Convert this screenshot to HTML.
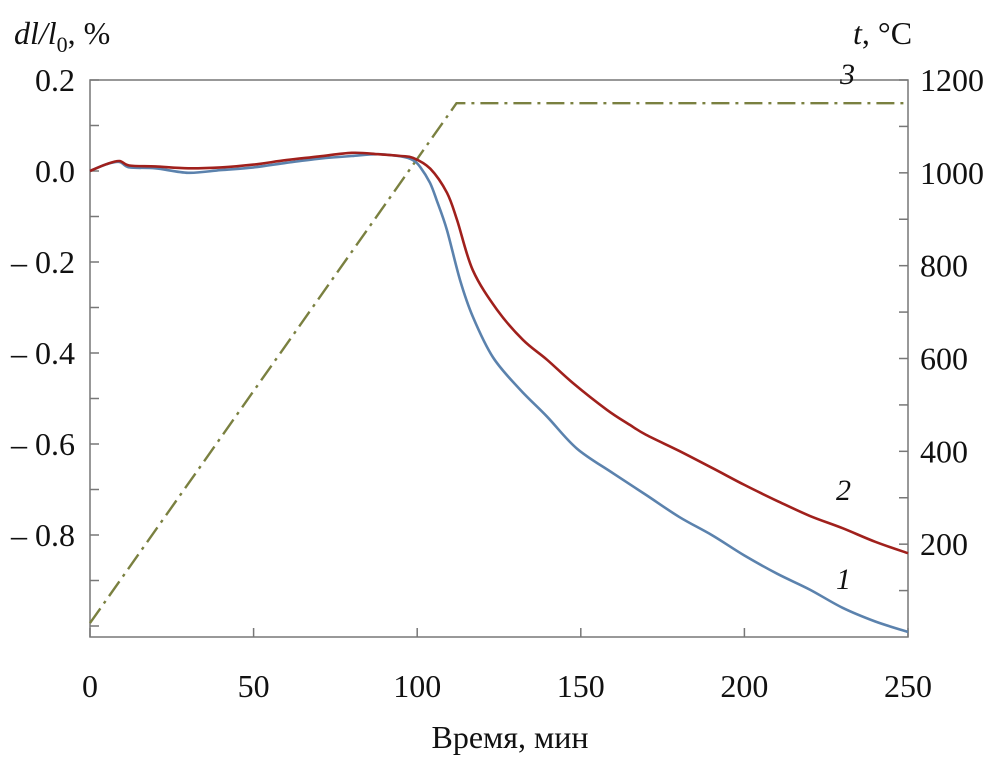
<!DOCTYPE html>
<html><head><meta charset="utf-8"><style>
body{margin:0;background:#fff}
svg text{font-family:"Liberation Serif",serif;fill:#111}
</style></head><body>
<svg width="1004" height="759" id="c"></svg>
<script>
const xs=[0,5,9,12,20,30,40,50,60,70,80,88,95,98.7,101,103.9,106,109.1,113.1,117,123.2,131.4,139.7,148.8,160,170,180,190,200,210,220,230,240,250];
const s1=[0,0.015,0.02,0.008,0.006,-0.004,0.002,0.008,0.018,0.027,0.033,0.037,0.032,0.024,0.008,-0.026,-0.065,-0.13,-0.24,-0.32,-0.41,-0.48,-0.54,-0.61,-0.665,-0.712,-0.76,-0.80,-0.845,-0.885,-0.92,-0.96,-0.99,-1.013];
const xs2=[0,5,9,12,20,30,40,50,60,70,80,88,95,98.7,104,109.1,112.2,117,124.4,132.3,139.7,147.6,158,165,170,180,190,200,210,220,230,240,250];
const s2=[0,0.015,0.022,0.012,0.01,0.006,0.008,0.014,0.024,0.032,0.04,0.037,0.033,0.029,0.005,-0.048,-0.108,-0.218,-0.305,-0.371,-0.415,-0.466,-0.525,-0.558,-0.58,-0.615,-0.652,-0.69,-0.725,-0.758,-0.785,-0.815,-0.84];
const tx=[0,112,250];
const tv=[30,1150,1150];
const leftTicks=[0.2,0.0,-0.2,-0.4,-0.6,-0.8];
const leftLabels=["0.2","0.0","– 0.2","– 0.4","– 0.6","– 0.8"];
const rightTicks=[1200,1000,800,600,400,200];
const xTicks=[0,50,100,150,200,250];
const X=v=>90+v*(908-90)/250;
const YL=v=>171-v*455;
const YR=v=>637-v*(637-80)/1200;
const svg=document.getElementById('c');
const NS='http://www.w3.org/2000/svg';
function el(t,a,txt){const e=document.createElementNS(NS,t);for(const k in a)e.setAttribute(k,a[k]);if(txt!==undefined)e.textContent=txt;svg.appendChild(e);return e;}
let f=el('rect',{x:90,y:80,width:818,height:557,fill:'none',stroke:'#777','stroke-width':1.5});


for(let v=0.2;v>-1.01;v-=0.1){const y=YL(v);let t=el('line',{x1:90,x2:99,y1:y,y2:y,stroke:'#777','stroke-width':1.5});

}
leftTicks.forEach((v,i)=>{let t=el('text',{x:75,y:YL(v)+11,'font-size':32,'text-anchor':'end'},leftLabels[i]);

});
for(let v=1200;v>=100;v-=100){const y=YR(v);let t=el('line',{x1:899,x2:908,y1:y,y2:y,stroke:'#777','stroke-width':1.5});

}
rightTicks.forEach(v=>{let t=el('text',{x:920,y:YR(v)+11,'font-size':32},String(v));

});
xTicks.forEach(v=>{let l=el('line',{x1:X(v),x2:X(v),y1:637,y2:628,stroke:'#777','stroke-width':1.5});


let t=el('text',{x:X(v),y:697,'font-size':32,'text-anchor':'middle'},String(v));

});
function path(xa,ya,fy){return xa.map((x,i)=>(i?'L':'M')+X(x).toFixed(1)+','+fy(ya[i]).toFixed(1)).join('');}
function smooth(xa,ya,fy){const P=xa.map((x,i)=>[X(x),fy(ya[i])]);let d='M'+P[0][0]+','+P[0][1];
for(let i=0;i<P.length-1;i++){const p0=P[Math.max(0,i-1)],p1=P[i],p2=P[i+1],p3=P[Math.min(P.length-1,i+2)];
d+='C'+(p1[0]+(p2[0]-p0[0])/6).toFixed(1)+','+(p1[1]+(p2[1]-p0[1])/6).toFixed(1)+' '+(p2[0]-(p3[0]-p1[0])/6).toFixed(1)+','+(p2[1]-(p3[1]-p1[1])/6).toFixed(1)+' '+p2[0].toFixed(1)+','+p2[1].toFixed(1);}
return d;}
let p3=el('path',{d:path(tx,tv,YR),fill:'none',stroke:'#7a8040','stroke-width':2.4,'stroke-dasharray':'18,6,3,6'});


let p1=el('path',{d:smooth(xs,s1,YL),fill:'none',stroke:'#5b82ad','stroke-width':2.6,'stroke-linejoin':'round'});


let p2=el('path',{d:smooth(xs2,s2,YL),fill:'none',stroke:'#a0201c','stroke-width':2.6,'stroke-linejoin':'round'});


</script>
<svg width="1004" height="759" style="position:absolute;left:0;top:0">
<text x="14" y="44" font-size="32" font-style="italic">dl/l<tspan font-style="normal" font-size="22" dy="8">0</tspan><tspan font-style="normal" dy="-8">, %</tspan></text>
<text x="853" y="44" font-size="32"><tspan font-style="italic">t</tspan>, °C</text>
<text x="510" y="748" font-size="32" text-anchor="middle">Время, мин</text>
<text x="840" y="84" font-size="30" font-style="italic">3</text>
<text x="836" y="500" font-size="30" font-style="italic">2</text>
<text x="836" y="589" font-size="30" font-style="italic">1</text>
</svg>
</body></html>
